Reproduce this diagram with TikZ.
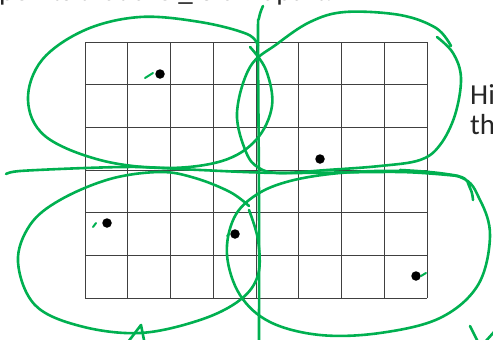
\documentclass[tikz,border=0pt]{standalone}
\usepackage{fontspec}
\setmainfont{Carlito}
\definecolor{inkgreen}{HTML}{00B050}
\tikzset{
  ink/.style={draw=inkgreen, line width=2.6pt, line cap=round, line join=round},
  pin/.style={circle, fill=black, inner sep=0pt, minimum size=9.5pt},
  gridline/.style={draw=black!75, line width=0.8pt},
  big/.style={font=\fontsize{29}{35}\selectfont, inner sep=0pt, text=black!85}
}
\begin{document}
\begin{tikzpicture}[x=1pt,y=-1pt]
    \useasboundingbox (0,0) rectangle (493,340);
    \clip (0,0) rectangle (493,340);

    % Rejilla de 8 x 6 casillas
    \foreach \i in {0,...,8} {
        \draw[gridline] (85+42.75*\i,42) -- (85+42.75*\i,298);
    }
    \foreach \j in {0,...,6} {
        \draw[gridline] (85,42+42.67*\j) -- (427,42+42.67*\j);
    }

    % Puntos
    \node[pin] (p1) at (160,74) {};
    \node[pin] (p2) at (320,159) {};
    \node[pin] (p3) at (107,223) {};
    \node[pin] (p4) at (235,234) {};
    \node[pin] (p5) at (416,276) {};

    % Textos cortados
    \node[big, anchor=base east] (task) at (333,1) {points that are \_ 8 cm apart.};
    \node[big, anchor=base west] (hint) at (470,104) {Hi};
    \node[big, anchor=base west] (hint2) at (470,134) {th};

    % Ejes a mano
    \draw[ink] plot[smooth, tension=0.6] coordinates {(263,6) (259,18) (258,40) (259,200) (259,345)};
    \draw[ink] plot[smooth, tension=0.5] coordinates {(6,174) (20,171) (85,168) (140,167) (200,170) (280,173) (400,172) (458,176)};

    % Lazo de arriba a la izquierda
    \draw[ink] plot[smooth, tension=0.6] coordinates {(258,46) (247,34) (200,22) (140,17) (85,30) (42,60) (28,100) (45,136) (100,160) (165,168) (222,161) (256,140) (272,106) (266,70) (250,47)};

    % Lazo de arriba a la derecha
    \draw[ink] plot[smooth, tension=0.6] coordinates {(437,37) (453,53) (461,78) (455,115) (440,145) (420,160) (380,166) (327,170) (280,173) (259,168) (246,152) (237,113) (250,67) (277,44) (310,22) (345,12) (400,15) (436,28) (451,46)};

    % Lazo de abajo a la izquierda
    \draw[ink] plot[smooth, tension=0.6] coordinates {(249,210) (258,240) (258,275) (240,300) (200,320) (140,333) (80,326) (35,305) (18,262) (30,225) (60,200) (110,179) (160,172) (195,178) (230,192) (249,206)};
    \draw[ink] (128,342) -- (141,325) -- (144,340);

    % Lazo de abajo a la derecha
    \draw[ink] plot[smooth, tension=0.6] coordinates {(400,170) (460,177) (480,200) (490,236) (478,285) (440,318) (380,333) (320,335) (270,322) (240,295) (227,255) (234,218) (256,195) (290,181) (340,173) (400,171) (458,176) (470,188) (473,200)};
    \draw[ink] (470,326) -- (478,342);
    \draw[ink] (494,332) -- (485,342);

    % Marcas junto a los puntos
    \draw[ink, line width=2pt] (145,78) -- (153,73);
    \draw[ink, line width=2pt] (93,227) -- (96,223);
    \draw[ink, line width=2pt] (227,236) -- (229,234);
    \draw[ink, line width=2pt] (421,276) -- (426,273);
\end{tikzpicture}
\end{document}
